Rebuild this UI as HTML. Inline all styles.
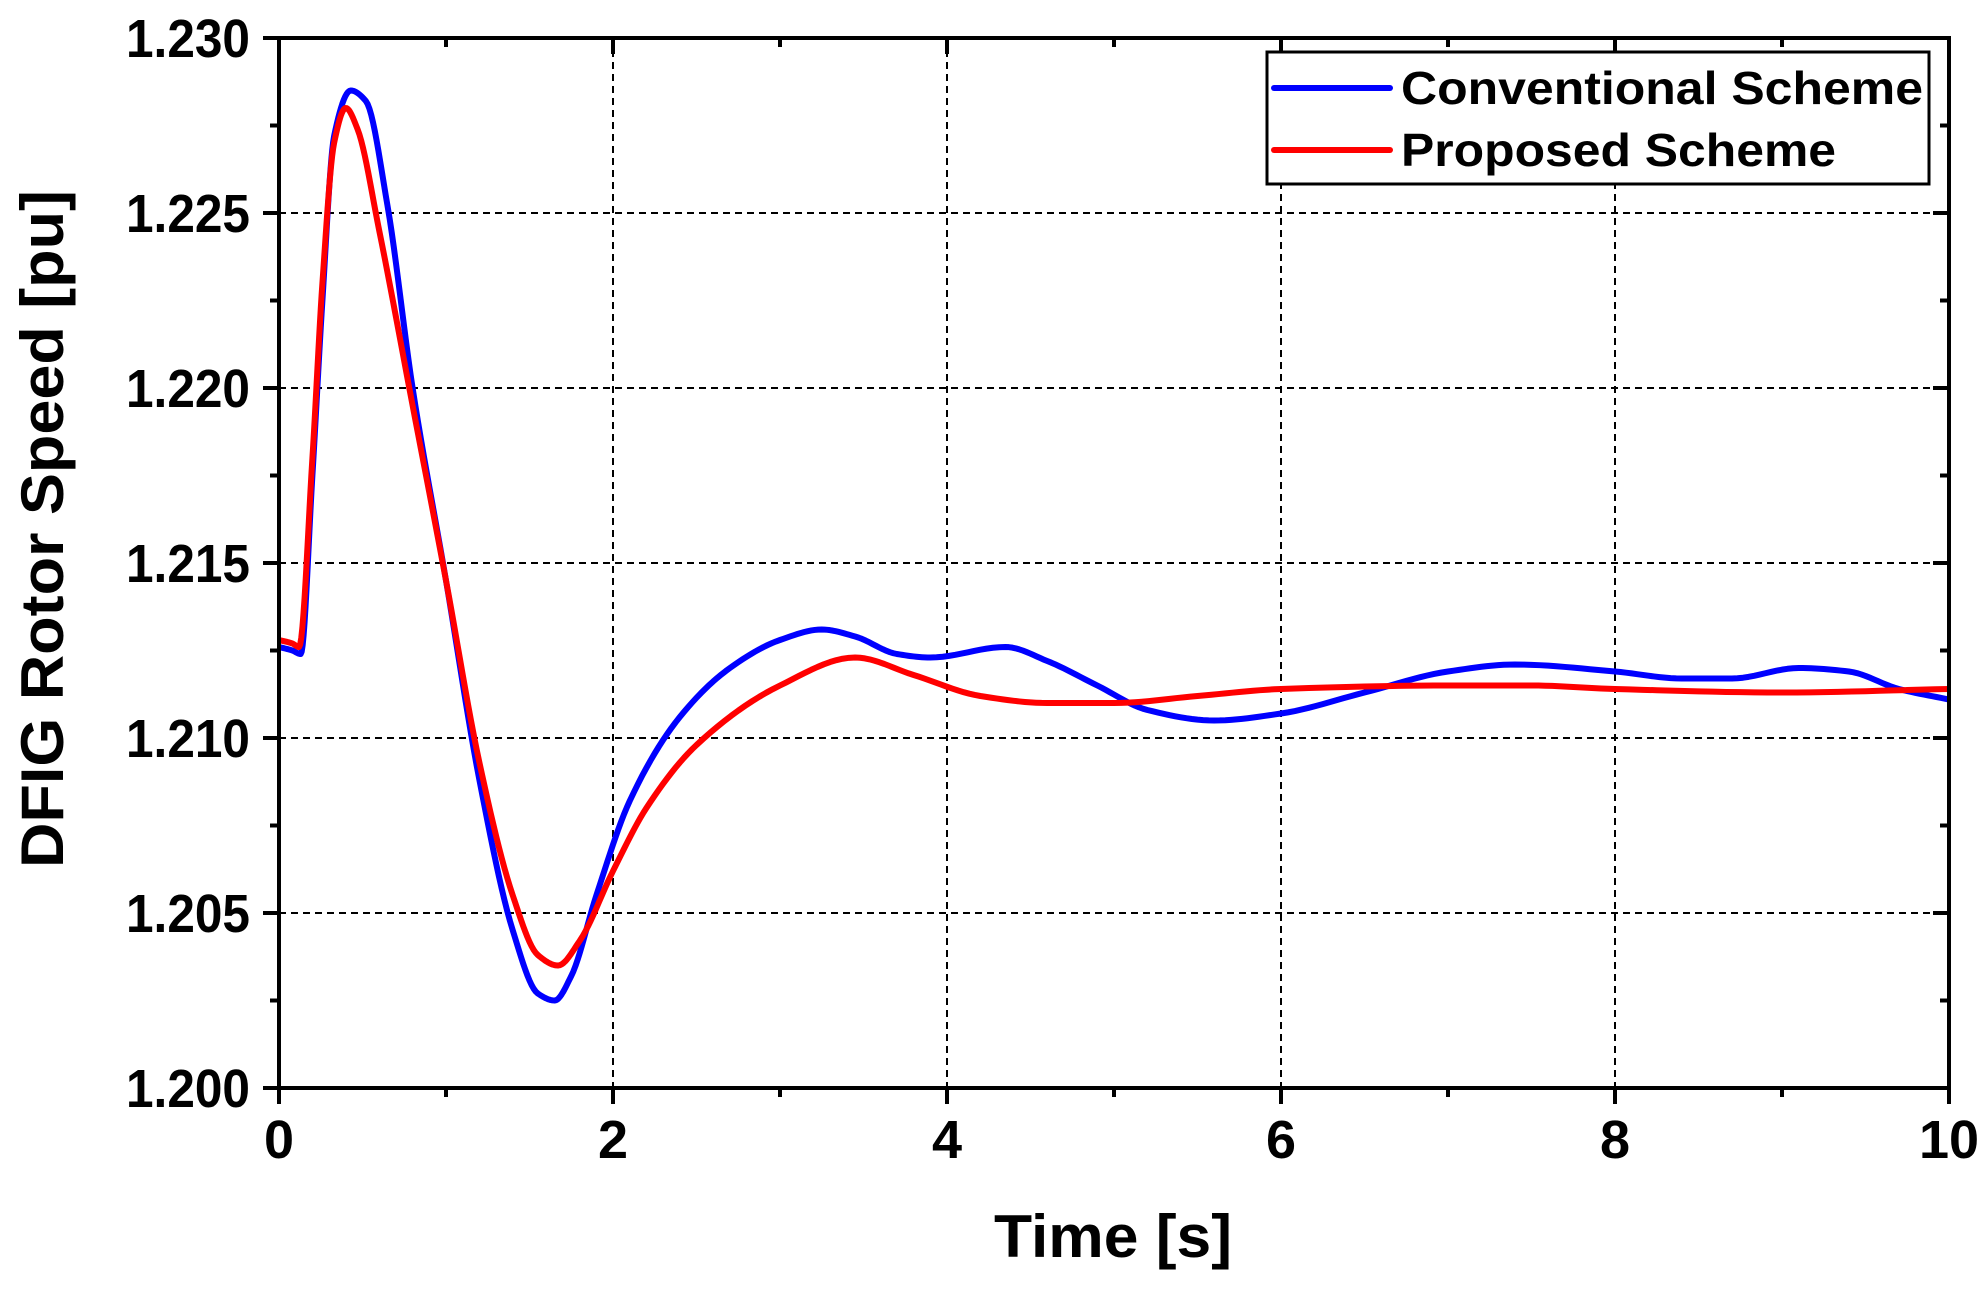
<!DOCTYPE html>
<html><head><meta charset="utf-8"><style>
html,body{margin:0;padding:0;background:#fff;}
svg{display:block;font-family:"Liberation Sans",Arial,sans-serif;font-weight:bold;}
</style></head><body>
<svg id="s" width="1986" height="1290" viewBox="0 0 1986 1290" xmlns="http://www.w3.org/2000/svg">
<g id="grid" stroke="#000" stroke-width="2" stroke-dasharray="7,5"></g>
<g id="ticks" stroke="#000" stroke-width="4"></g>
<path id="blue" fill="none" stroke="#0000ff" stroke-width="6" stroke-linejoin="round"/>
<path id="red" fill="none" stroke="#ff0000" stroke-width="6" stroke-linejoin="round"/>
<rect x="279" y="38" width="1670" height="1050" fill="none" stroke="#000" stroke-width="4"/>
<g id="labels" font-size="54" fill="#000"></g>
<rect x="1267" y="52" width="662" height="132" fill="#fff" stroke="#000" stroke-width="3"/>
<line x1="1274" y1="88" x2="1390" y2="88" stroke="#0000ff" stroke-width="6" stroke-linecap="round"/>
<line x1="1274" y1="150" x2="1390" y2="150" stroke="#ff0000" stroke-width="6" stroke-linecap="round"/>
<text x="1401" y="104" font-size="46" textLength="522" lengthAdjust="spacingAndGlyphs">Conventional Scheme</text>
<text x="1401" y="166" font-size="46" textLength="435" lengthAdjust="spacingAndGlyphs">Proposed Scheme</text>
<text x="1113" y="1257" font-size="60" text-anchor="middle" textLength="238" lengthAdjust="spacingAndGlyphs">Time [s]</text>
<text transform="translate(63,529) rotate(-90)" font-size="60" text-anchor="middle" textLength="678" lengthAdjust="spacingAndGlyphs">DFIG Rotor Speed [pu]</text>
</svg>
<script>
var L=279,R=1949,T=38,B=1088;
function X(t){return L+t*167;}
function Y(v){return T+(1.230-v)*35000;}
var ns="http://www.w3.org/2000/svg";
function el(p,n,a){var e=document.createElementNS(ns,n);for(var k in a)e.setAttribute(k,a[k]);p.appendChild(e);return e;}
var g=document.getElementById('grid'),tk=document.getElementById('ticks'),lb=document.getElementById('labels');
for(var i=0;i<=6;i++){var y=B-i*175;
 if(i>0&&i<6)el(g,'line',{x1:L,y1:y,x2:R,y2:y});
 el(tk,'line',{x1:L-16,y1:y,x2:L,y2:y});el(tk,'line',{x1:R-16,y1:y,x2:R,y2:y});
 var t=el(lb,'text',{x:250,y:y+19,'text-anchor':'end',textLength:124,lengthAdjust:'spacingAndGlyphs'});t.textContent=(1.200+i*0.005).toFixed(3);
 if(i<6){var ym=y-87.5;el(tk,'line',{x1:L-9,y1:ym,x2:L,y2:ym});el(tk,'line',{x1:R-9,y1:ym,x2:R,y2:ym});}
}
for(var i=0;i<=5;i++){var x=L+i*334;
 if(i>0&&i<5)el(g,'line',{x1:x,y1:T,x2:x,y2:B});
 el(tk,'line',{x1:x,y1:B,x2:x,y2:B+16});el(tk,'line',{x1:x,y1:T,x2:x,y2:T+16});
 var t=el(lb,'text',{x:x,y:1158,'text-anchor':'middle'});t.textContent=String(i*2);
 if(i<5){var xm=x+167;el(tk,'line',{x1:xm,y1:B,x2:xm,y2:B+9});el(tk,'line',{x1:xm,y1:T,x2:xm,y2:T+9});}
}
var blue=[[0,1.2126],[0.08,1.2125],[0.13,1.2124],[0.2,1.2175],[0.26,1.2225],[0.33,1.2272],[0.43,1.2285],[0.52,1.2282],[0.65,1.2252],[0.8,1.2200],[1.0,1.2145],[1.2,1.2088],[1.4,1.2045],[1.55,1.2027],[1.65,1.2025],[1.75,1.2032],[1.9,1.2055],[2.1,1.2082],[2.4,1.2106],[2.7,1.2120],[3.0,1.2128],[3.25,1.2131],[3.45,1.2129],[3.7,1.2124],[3.9,1.2123],[4.35,1.2126],[4.6,1.2122],[4.9,1.2115],[5.2,1.2108],[5.6,1.2105],[6.0,1.2107],[6.5,1.2113],[7.0,1.2119],[7.4,1.2121],[8.0,1.2119],[8.4,1.2117],[8.7,1.2117],[9.1,1.2120],[9.4,1.2119],[9.7,1.2114],[10,1.2111]];
var red=[[0,1.2128],[0.08,1.2127],[0.12,1.2126],[0.2,1.2180],[0.26,1.2230],[0.33,1.2270],[0.4,1.2280],[0.47,1.2274],[0.6,1.2245],[0.8,1.2195],[1.0,1.2145],[1.2,1.2093],[1.4,1.2055],[1.55,1.2038],[1.67,1.2035],[1.8,1.2042],[2.0,1.2062],[2.2,1.2080],[2.5,1.2098],[3.0,1.2115],[3.45,1.2123],[3.8,1.2118],[4.2,1.2112],[4.6,1.2110],[5.0,1.2110],[5.5,1.2112],[6.0,1.2114],[7.0,1.2115],[7.5,1.2115],[8.0,1.2114],[9.0,1.2113],[10,1.2114]];
function path(d){
 var n=d.length,x=d.map(function(a){return a[0]}),y=d.map(function(a){return a[1]});
 var h=[],s=[],m=[];
 for(var i=0;i<n-1;i++){h[i]=x[i+1]-x[i];s[i]=(y[i+1]-y[i])/h[i];}
 m[0]=s[0];m[n-1]=s[n-2];
 for(var i=1;i<n-1;i++){ if(s[i-1]*s[i]<=0)m[i]=0; else {var w1=2*h[i]+h[i-1],w2=h[i]+2*h[i-1];m[i]=(w1+w2)/(w1/s[i-1]+w2/s[i]);} }
 var out='M'+X(x[0])+','+Y(y[0]);
 for(var i=0;i<n-1;i++){
  for(var k=1;k<=12;k++){var tt=k/12,t2=tt*tt,t3=t2*tt;
   var v=(2*t3-3*t2+1)*y[i]+(t3-2*t2+tt)*h[i]*m[i]+(-2*t3+3*t2)*y[i+1]+(t3-t2)*h[i]*m[i+1];
   out+=' L'+X(x[i]+tt*h[i]).toFixed(2)+','+Y(v).toFixed(2);}
 }
 return out;}
document.getElementById('blue').setAttribute('d',path(blue));
document.getElementById('red').setAttribute('d',path(red));
</script>
</body></html>
